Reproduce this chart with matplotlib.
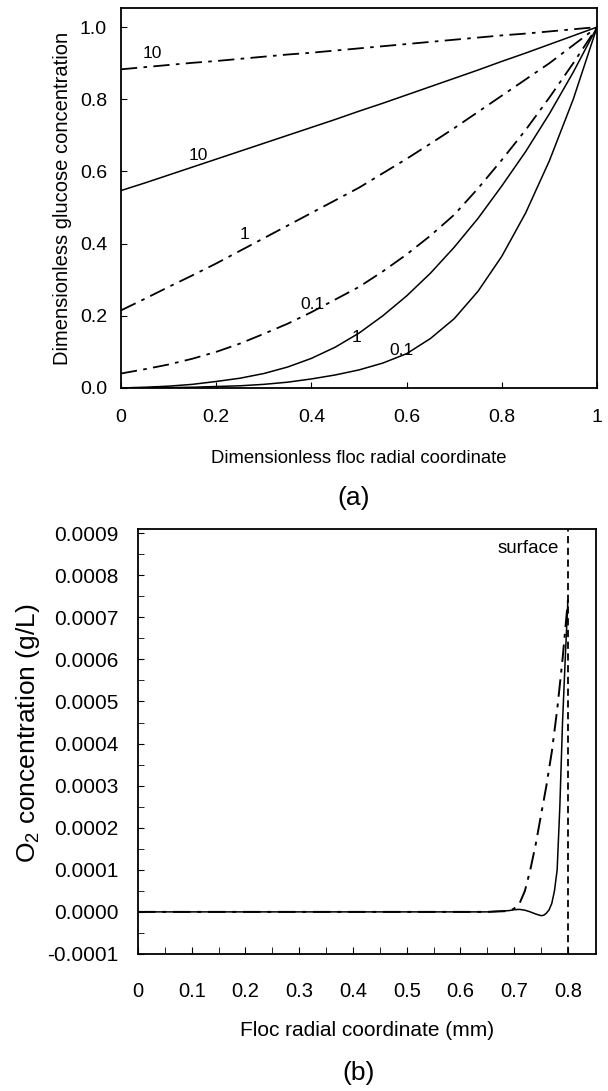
import matplotlib
matplotlib.use("Agg")
import matplotlib.pyplot as plt
from matplotlib import font_manager

# ---- panel (a): dimensionless glucose profiles ----
r_dimless = [0.0, 0.05, 0.1, 0.15, 0.2, 0.25, 0.3, 0.35, 0.4, 0.45, 0.5,
             0.55, 0.6, 0.65, 0.7, 0.75, 0.8, 0.85, 0.9, 0.95, 1.0]
dd_10 = [0.883, 0.889, 0.895, 0.901, 0.906, 0.912, 0.918, 0.924, 0.929, 0.935, 0.941,
         0.947, 0.953, 0.959, 0.965, 0.971, 0.977, 0.982, 0.988, 0.994, 1.0]
solid_10 = [0.547, 0.568, 0.590, 0.612, 0.634, 0.656, 0.678, 0.700, 0.722, 0.744, 0.767,
            0.789, 0.812, 0.835, 0.858, 0.881, 0.905, 0.928, 0.952, 0.976, 1.0]
dd_1 = [0.215, 0.247, 0.280, 0.312, 0.345, 0.380, 0.415, 0.450, 0.485, 0.520, 0.555,
        0.595, 0.635, 0.677, 0.720, 0.765, 0.810, 0.855, 0.900, 0.950, 1.0]
dd_01 = [0.040, 0.052, 0.065, 0.081, 0.100, 0.123, 0.150, 0.178, 0.210, 0.245, 0.280,
         0.323, 0.370, 0.422, 0.480, 0.553, 0.632, 0.715, 0.805, 0.900, 1.0]
solid_1 = [0.0, 0.002, 0.005, 0.010, 0.018, 0.027, 0.040, 0.058, 0.082, 0.113, 0.152,
           0.200, 0.255, 0.318, 0.390, 0.470, 0.560, 0.655, 0.760, 0.875, 1.0]
solid_01 = [0.0, 0.0, 0.001, 0.002, 0.004, 0.006, 0.010, 0.016, 0.025, 0.036, 0.050,
            0.069, 0.095, 0.137, 0.192, 0.268, 0.365, 0.485, 0.630, 0.800, 1.0]

# curve labels: text, x, y
curve_labels = [("10", 0.065, 0.928), ("10", 0.162, 0.645), ("1", 0.26, 0.424),
                ("0.1", 0.403, 0.23), ("1", 0.494, 0.141), ("0.1", 0.59, 0.105)]

# ---- panel (b): O2 profiles ----
r_solid = [0.0, 0.1, 0.2, 0.3, 0.4, 0.5, 0.6, 0.65, 0.69, 0.70, 0.71, 0.72, 0.73,
           0.74, 0.75, 0.755, 0.76, 0.765, 0.77, 0.775, 0.78, 0.785, 0.79, 0.795, 0.80]
o2_solid = [0.0, 0.0, 0.0, 0.0, 0.0, 0.0, 0.0, 0.0, 0.000003, 0.000005, 0.000006,
            0.000004, 0.0, -0.000005, -0.000009, -0.000008, -0.000003, 0.000005,
            0.00002, 0.00005, 0.0001, 0.00025, 0.00045, 0.0006, 0.00074]
r_dd = [0.0, 0.1, 0.2, 0.3, 0.4, 0.5, 0.6, 0.65, 0.69, 0.70, 0.71, 0.72, 0.73,
        0.74, 0.75, 0.76, 0.77, 0.78, 0.79, 0.80]
o2_dd = [0.0, 0.0, 0.0, 0.0, 0.0, 0.0, 0.0, 0.0, 0.000002, 0.000008, 0.00002,
         0.00005, 0.0001, 0.00016, 0.00023, 0.0003, 0.00038, 0.00048, 0.0006, 0.00074]
surface_r = 0.8

xt_a = [0, 0.2, 0.4, 0.6, 0.8, 1]
xt_a_lab = ["0", "0.2", "0.4", "0.6", "0.8", "1"]
yt_a = [0.0, 0.2, 0.4, 0.6, 0.8, 1.0]
xt_b = [0, 0.1, 0.2, 0.3, 0.4, 0.5, 0.6, 0.7, 0.8]
yt_b = [-0.0001, 0.0, 0.0001, 0.0002, 0.0003, 0.0004, 0.0005, 0.0006, 0.0007, 0.0008, 0.0009]

names = {f.name for f in font_manager.fontManager.ttflist}
narrow = "Liberation Sans Narrow" in names
plt.rcParams["font.family"] = ["Liberation Sans", "DejaVu Sans"]
plt.rcParams["mathtext.fontset"] = "custom"
plt.rcParams["mathtext.rm"] = "Liberation Sans"
xfam = ["Liberation Sans Narrow"] if narrow else ["Liberation Sans"]
xsz_a, xsz_b = (16, 18) if narrow else (13.3, 15)

dd = (0, (9, 3.5, 2, 3.5))

fig = plt.figure(figsize=(6.08, 10.91), dpi=100)

# (a)
ax = fig.add_axes([0.199, 0.6444, 0.783, 0.3483])
ax.plot(r_dimless, dd_10, color="k", lw=1.3, linestyle=dd)
ax.plot(r_dimless, solid_10, color="k", lw=1.1)
ax.plot(r_dimless, dd_1, color="k", lw=1.3, linestyle=dd)
ax.plot(r_dimless, dd_01, color="k", lw=1.3, linestyle=dd)
ax.plot(r_dimless, solid_1, color="k", lw=1.1)
ax.plot(r_dimless, solid_01, color="k", lw=1.1)
for t, x, y in curve_labels:
    ax.text(x, y, t, fontsize=12.5, ha="center", va="center")
ax.set_xlim(0, 1)
ax.set_ylim(0, 1.053)
ax.set_xticks(xt_a)
ax.set_xticklabels(xt_a_lab)
ax.set_yticks(yt_a)
ax.set_yticklabels([f"{v:.1f}" for v in yt_a])
ax.tick_params(axis="x", direction="in", length=4, labelsize=14, pad=15)
ax.tick_params(axis="y", direction="in", length=4, labelsize=14, pad=10)
ax.set_xlabel("Dimensionless floc radial coordinate", family=xfam, fontsize=xsz_a)
ax.xaxis.set_label_coords(0.5, -0.163)
ax.set_ylabel("Dimensionless glucose concentration", fontsize=14.5)
ax.yaxis.set_label_coords(-0.103, 0.5)
for s in ax.spines.values():
    s.set_linewidth(1.3)
fig.text(0.581, 0.5435, "(a)", fontsize=19, ha="center", va="center")

# (b)
bx = fig.add_axes([0.227, 0.1256, 0.753, 0.3896])
bx.plot(r_dd, o2_dd, color="k", lw=1.4, linestyle=dd)
bx.plot(r_solid, o2_solid, color="k", lw=1.1)
bx.axvline(surface_r, color="k", lw=1.3, linestyle=(0, (4, 2.5)))
bx.text(0.784, 0.000864, "surface", fontsize=13.5, ha="right", va="center")
bx.set_xlim(0, 0.852)
bx.set_ylim(-0.0001, 0.00091)
bx.set_xticks(xt_b)
bx.set_xticklabels(["0"] + [f"{v:.1f}" for v in xt_b[1:]])
bx.set_xticks([0.05, 0.15, 0.25, 0.35, 0.45, 0.55, 0.65, 0.75], minor=True)
bx.set_yticks(yt_b)
bx.set_yticklabels([f"{v:.4f}" for v in yt_b])
bx.set_yticks([v + 0.00005 for v in yt_b[:-1]], minor=True)
bx.tick_params(axis="x", which="both", direction="in", length=5, labelsize=14.5, pad=20)
bx.tick_params(axis="y", which="both", direction="in", length=4, labelsize=15, pad=14)
bx.set_xlabel("Floc radial coordinate (mm)", family=xfam, fontsize=xsz_b)
bx.xaxis.set_label_coords(0.5, -0.158)
bx.set_ylabel("O$_2$ concentration (g/L)", fontsize=19)
bx.yaxis.set_label_coords(-0.21, 0.52)
for s in bx.spines.values():
    s.set_linewidth(1.3)
fig.text(0.59, 0.0165, "(b)", fontsize=19, ha="center", va="center")

fig.savefig("out.png", dpi=100)
